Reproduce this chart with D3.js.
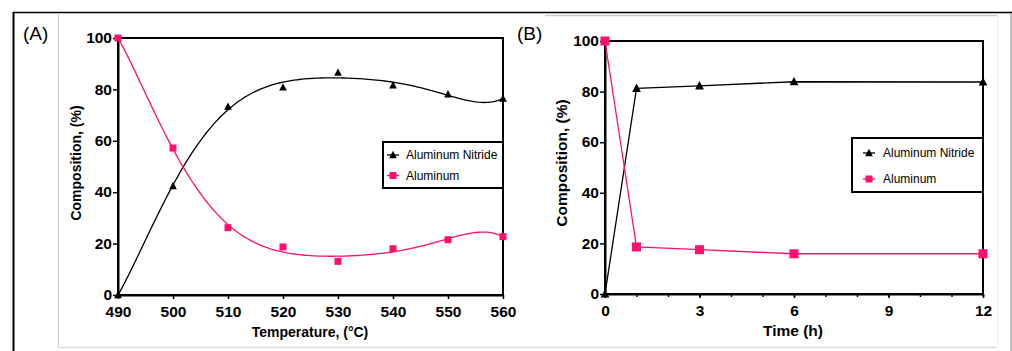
<!DOCTYPE html>
<html><head><meta charset="utf-8">
<script src="https://cdn.jsdelivr.net/npm/d3@7"></script>
<style>body{margin:0;background:#fff}svg{display:block;font-family:"Liberation Sans",Arial,sans-serif}</style>
</head><body><svg id="c" width="1012" height="351"></svg>
<script>
// ---- data ----
const tempCategories = [490, 500, 510, 520, 530, 540, 550, 560];
const tempAlN = [0, 42.4, 73.3, 80.8, 86.5, 81.6, 78.1, 76.4];
const tempAl = [100, 57.2, 26.2, 18.7, 13.1, 18.0, 21.5, 22.7];
const tempTicks = [490, 500, 510, 520, 530, 540, 550, 560];
const timeCategories = [0, 1, 3, 6, 12];
const timeAlN = [0, 81.3, 82.3, 83.9, 83.8];
const timeAl = [100, 18.6, 17.5, 15.9, 15.9];
const timeTicks = [0, 3, 6, 9, 12];
const timeMinorTicks = [0,1,2,3,4,5,6,7,8,9,10,11,12];
const compTicks = [0, 20, 40, 60, 80, 100];
const seriesNames = ["Aluminum Nitride", "Aluminum"];

const PINK = "#ff1070";
const svg = d3.select("#c");

// frame
svg.append("line").attr("x1",13.5).attr("x2",13.5).attr("y1",12).attr("y2",351).attr("stroke","#000").attr("stroke-width",2);
svg.append("line").attr("x1",13).attr("x2",1012).attr("y1",12.5).attr("y2",12.5).attr("stroke","#000").attr("stroke-width",1.5);
svg.append("line").attr("x1",58.5).attr("x2",58.5).attr("y1",13).attr("y2",347).attr("stroke","#ccc").attr("stroke-width",1);
svg.append("line").attr("x1",58).attr("x2",997).attr("y1",347.5).attr("y2",347.5).attr("stroke","#ddd").attr("stroke-width",1.5);
svg.append("line").attr("x1",545).attr("x2",997).attr("y1",15.5).attr("y2",15.5).attr("stroke","#ccc").attr("stroke-width",1.5);
svg.append("line").attr("x1",997.5).attr("x2",997.5).attr("y1",15).attr("y2",347).attr("stroke","#eee").attr("stroke-width",1);
svg.append("line").attr("x1",1011).attr("x2",1011).attr("y1",13).attr("y2",351).attr("stroke","#aaa").attr("stroke-width",1.5);

// polynomial least squares fit
function polyfit(xs, ys, deg, x0, s) {
  const n = deg + 1;
  const A = Array.from({length:n}, () => new Array(n+1).fill(0));
  xs.forEach((x,k) => {
    const t = (x - x0)/s;
    const p = []; for (let i=0;i<n;i++) p.push(Math.pow(t,i));
    for (let i=0;i<n;i++){ for (let j=0;j<n;j++) A[i][j]+=p[i]*p[j]; A[i][n]+=p[i]*ys[k]; }
  });
  for (let i=0;i<n;i++){
    let m=i; for (let r=i+1;r<n;r++) if (Math.abs(A[r][i])>Math.abs(A[m][i])) m=r;
    [A[i],A[m]]=[A[m],A[i]];
    for (let r=0;r<n;r++){ if(r===i) continue; const f=A[r][i]/A[i][i]; for(let c=i;c<=n;c++) A[r][c]-=f*A[i][c]; }
  }
  const coef = A.map((row,i)=>row[n]/row[i]);
  return x => { const t=(x-x0)/s; let v=0; for(let i=n-1;i>=0;i--) v=v*t+coef[i]; return v; };
}

function triangle(g, x, y, size, color) {
  const h = size;
  g.append("path").attr("d", `M${x},${y-h*0.6}L${x+h*0.55},${y+h*0.45}L${x-h*0.55},${y+h*0.45}Z`).attr("fill", color);
}
function square(g, x, y, size, color) {
  g.append("rect").attr("x", x-size/2).attr("y", y-size/2).attr("width", size).attr("height", size).attr("fill", color);
}

function panel(opt) {
  const g = svg.append("g");
  const x = d3.scaleLinear().domain(opt.xDomain).range(opt.xRange);
  const y = d3.scaleLinear().domain([0,100]).range(opt.yRange);
  // box
  g.append("rect").attr("x", opt.xRange[0]).attr("y", opt.yRange[1])
    .attr("width", opt.xRange[1]-opt.xRange[0]).attr("height", opt.yRange[0]-opt.yRange[1])
    .attr("fill","none").attr("stroke","#000").attr("stroke-width",2);
  // minor ticks
  if (opt.minor) {
    g.append("g").attr("transform",`translate(0,${opt.yRange[0]})`)
      .call(d3.axisBottom(x).tickValues(opt.minor).tickSize(3).tickFormat(""))
      .call(a=>{a.select(".domain").remove(); a.selectAll("line").attr("stroke-width",1.5);});
  }
  const xa = g.append("g").attr("transform",`translate(0,${opt.yRange[0]})`)
    .call(d3.axisBottom(x).tickValues(opt.xTicks).tickSize(4).tickPadding(7).tickSizeOuter(0));
  const ya = g.append("g").attr("transform",`translate(${opt.xRange[0]},0)`)
    .call(d3.axisLeft(y).tickValues(compTicks).tickSize(5).tickPadding(1).tickSizeOuter(0));
  [xa, ya].forEach(a => {
    a.select(".domain").attr("stroke-width",2);
    a.selectAll(".tick line").attr("stroke-width",1.5);
    a.selectAll("text").attr("font-family","'Liberation Sans',Arial,sans-serif").attr("font-size",15.5).attr("font-weight","bold").attr("fill","#000");
  });
  ya.selectAll("text").attr("dy","0.3em");
  // titles
  g.append("text").attr("x", opt.xTitlePos[0]).attr("y", opt.xTitlePos[1]).attr("text-anchor","middle")
    .attr("font-weight","bold").attr("font-size", opt.titleSize).text(opt.xTitle);
  g.append("text").attr("transform", `translate(${opt.yTitlePos[0]},${opt.yTitlePos[1]}) rotate(-90)`)
    .attr("text-anchor","middle").attr("dy","0.35em").attr("font-weight","bold").attr("font-size", opt.titleSize).text("Composition, (%)");
  g.append("text").attr("x", opt.label[0]).attr("y", opt.label[1]).attr("font-size",19).text(opt.labelText);

  // lines
  const series = [
    {vals: opt.aln, color:"#000", mark:triangle},
    {vals: opt.al, color:PINK, mark:square}
  ];
  series.forEach(s => {
    let pathD;
    if (opt.fit) {
      const f = polyfit(opt.cats, s.vals, opt.fitDeg, 525, 35);
      const samples = d3.range(opt.xDomain[0], opt.xDomain[1]+0.01, 0.5);
      pathD = d3.line().x(d=>x(d)).y(d=>y(f(d)))(samples);
    } else {
      pathD = d3.line().x((d,i)=>x(opt.cats[i])).y(d=>y(d))(s.vals);
    }
    g.append("path").attr("d", pathD).attr("fill","none").attr("stroke", s.color).attr("stroke-width",1.3);
  });
  series.forEach(s => {
    s.vals.forEach((v,i) => s.mark(g, x(opt.cats[i]), y(v), s.mark===square ? opt.sq : opt.tri, s.color));
  });

  // legend
  const L = opt.legend;
  g.append("rect").attr("x", L.x).attr("y", L.y).attr("width", L.w).attr("height", L.h)
    .attr("fill","#fff").attr("stroke","#000").attr("stroke-width",2);
  seriesNames.forEach((name, i) => {
    const yy = L.rows[i];
    const s = series[i];
    g.append("line").attr("x1", L.sx-6).attr("x2", L.sx+6).attr("y1", yy).attr("y2", yy).attr("stroke", s.color).attr("stroke-width",1.3);
    s.mark(g, L.sx, yy, 7, s.color);
    g.append("text").attr("x", L.tx).attr("y", yy).attr("dy","0.35em").attr("font-size",12).text(name);
  });
}

panel({
  xDomain:[490,560], xRange:[118,503], yRange:[295,38], xTicks: tempTicks,
  cats: tempCategories, aln: tempAlN, al: tempAl, fit:true, fitDeg:6, sq:7, tri:7,
  xTitle:"Temperature, (°C)", xTitlePos:[310,337], yTitlePos:[76,163], titleSize:14,
  label:[23,40], labelText:"(A)",
  legend:{x:383, y:142, w:120, h:46, rows:[155,175.5], sx:393, tx:406}
});
panel({
  xDomain:[0,12], xRange:[605,983], yRange:[294,41], xTicks: timeTicks, minor: timeMinorTicks,
  cats: timeCategories, aln: timeAlN, al: timeAl, fit:false, sq:9, tri:8,
  xTitle:"Time (h)", xTitlePos:[793,336], yTitlePos:[562,163], titleSize:15.5,
  label:[517,40], labelText:"(B)",
  legend:{x:852, y:138, w:131, h:54, rows:[153,179], sx:869, tx:883}
});
</script></body></html>
